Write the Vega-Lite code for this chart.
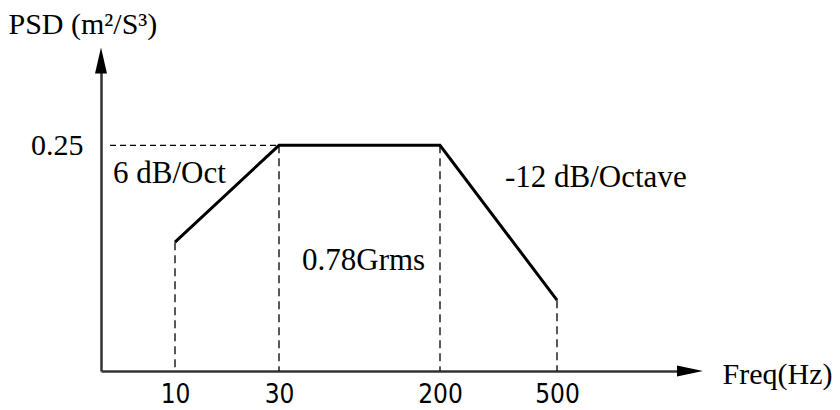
{
  "$schema": "https://vega.github.io/schema/vega-lite/v6.json",
  "width": 590,
  "height": 316,
  "autosize": {"type": "none"},
  "padding": {"left": 101, "top": 55, "right": 149, "bottom": 39},
  "background": "white",
  "config": {
    "view": {"stroke": null},
    "font": "Liberation Serif"
  },
  "datasets": {
    "profile": [
      {"freq": "10", "pos": 0.74, "psd": 0.1427},
      {"freq": "30", "pos": 1.78, "psd": 0.25},
      {"freq": "200", "pos": 3.39, "psd": 0.25},
      {"freq": "500", "pos": 4.56, "psd": 0.0785}
    ],
    "notes": [
      {"label": "6 dB/Oct", "pos": 0.12, "psd": 0.208},
      {"label": "-12 dB/Octave", "pos": 4.04, "psd": 0.2035},
      {"label": "0.78Grms", "pos": 2.01, "psd": 0.1117}
    ],
    "level": [
      {"pos": 0.09, "pos2": 1.78, "psd": 0.25}
    ]
  },
  "encoding": {
    "x": {
      "field": "pos",
      "type": "quantitative",
      "scale": {"domain": [0, 5.9], "nice": false, "zero": false},
      "axis": {
        "title": "Freq(Hz)",
        "titleFont": "Liberation Serif",
        "titleFontSize": 30,
        "titleFontWeight": "normal",
        "titleColor": "black",
        "titleAngle": 0,
        "titleAlign": "left",
        "titleBaseline": "alphabetic",
        "titleAnchor": null,
        "titleX": 621,
        "titleY": 12,
        "values": [0.74, 1.78, 3.39, 4.56],
        "labelExpr": "datum.value < 1 ? '10' : datum.value < 2 ? '30' : datum.value < 4 ? '200' : '500'",
        "labelFont": "DejaVu Sans Condensed",
        "labelFontSize": 26,
        "labelColor": "black",
        "labelBaseline": "top",
        "labelPadding": 10,
        "ticks": false,
        "tickSize": 0,
        "grid": false,
        "domainColor": "#333333",
        "domainWidth": 2.5,
        "labelOverlap": false
      }
    },
    "y": {
      "field": "psd",
      "type": "quantitative",
      "scale": {"domain": [0, 0.35], "nice": false, "zero": true},
      "axis": {
        "title": "PSD (m²/S³)",
        "titleFont": "Liberation Serif",
        "titleFontSize": 30,
        "titleFontWeight": "normal",
        "titleColor": "black",
        "titleAngle": 0,
        "titleAlign": "left",
        "titleBaseline": "alphabetic",
        "titleAnchor": null,
        "titleX": -93,
        "titleY": -22,
        "values": [0.25],
        "format": ".2f",
        "labelFont": "Liberation Serif",
        "labelFontSize": 30,
        "labelColor": "black",
        "labelPadding": 18,
        "ticks": false,
        "tickSize": 0,
        "grid": false,
        "domainColor": "#333333",
        "domainWidth": 2.5
      }
    }
  },
  "layer": [
    {
      "data": {"name": "level"},
      "mark": {"type": "rule", "color": "black", "strokeWidth": 1.3, "strokeDash": [6, 4]},
      "encoding": {
        "x2": {"field": "pos2"}
      }
    },
    {
      "data": {"name": "profile"},
      "mark": {"type": "rule", "color": "black", "strokeWidth": 1.3, "strokeDash": [8, 5]},
      "encoding": {
        "y2": {"datum": 0}
      }
    },
    {
      "data": {"name": "profile"},
      "mark": {"type": "line", "color": "black", "strokeWidth": 3, "strokeJoin": "miter"},
      "encoding": {
        "order": {"field": "pos"}
      }
    },
    {
      "data": {"name": "notes"},
      "mark": {"type": "text", "font": "Liberation Serif", "fontSize": 31, "align": "left", "baseline": "alphabetic", "color": "black"},
      "encoding": {
        "text": {"field": "label"}
      }
    },
    {
      "data": {"values": [{"pos": 0, "psd": 0.344}]},
      "mark": {"type": "point", "shape": "M0,-1L0.46,1L-0.46,1Z", "size": 676, "filled": true, "color": "black", "opacity": 1}
    },
    {
      "data": {"values": [{"pos": 5.89, "psd": 0}]},
      "mark": {"type": "point", "shape": "M1,0L-1,0.42L-1,-0.42Z", "size": 676, "filled": true, "color": "black", "opacity": 1}
    }
  ]
}
